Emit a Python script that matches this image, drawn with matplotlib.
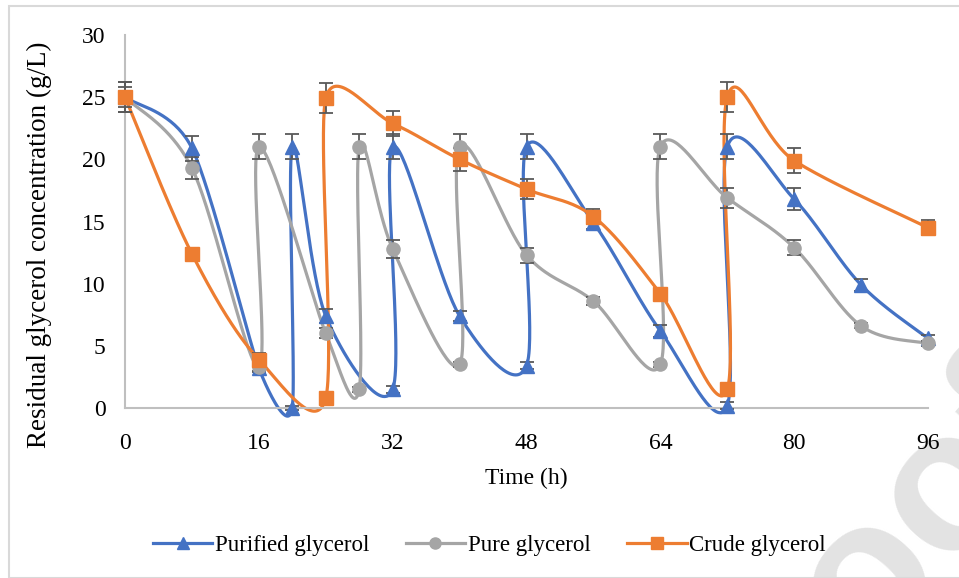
import matplotlib
matplotlib.use('Agg')
import matplotlib.pyplot as plt
import numpy as np
from matplotlib.lines import Line2D
from matplotlib.patches import Rectangle

plt.rcParams['font.family'] = ['Liberation Serif', 'DejaVu Serif']

# data
t_purified = [0, 8, 16, 20, 20, 24, 32, 32, 40, 48, 48, 56, 64, 72, 72, 80, 88, 96]
c_purified = [25, 20.9, 3.2, 0, 21, 7.4, 1.5, 21, 7.4, 3.4, 21, 14.9, 6.2, 0.2, 21, 16.8, 9.9, 5.6]
e_purified = [1.2, 1.0, 0.3, 0.2, 1.0, 0.6, 0.3, 1.0, 0.4, 0.3, 1.0, 0.5, 0.5, 0.3, 1.0, 0.9, 0.5, 0.3]

t_pure = [0, 8, 16, 16, 24, 28, 28, 32, 40, 40, 48, 56, 64, 64, 72, 80, 88, 96]
c_pure = [25, 19.3, 3.3, 21, 6.0, 1.5, 21, 12.8, 3.5, 21, 12.3, 8.6, 3.5, 21, 16.9, 12.9, 6.6, 5.2]
e_pure = [1.2, 0.9, 0.3, 1.0, 0.4, 0.2, 1.0, 0.7, 0.2, 1.0, 0.6, 0.3, 0.2, 1.0, 0.8, 0.6, 0.2, 0.2]

t_crude = [0, 8, 16, 24, 24, 32, 40, 48, 56, 64, 72, 72, 80, 96]
c_crude = [25, 12.4, 3.9, 0.8, 24.9, 22.9, 20.0, 17.6, 15.4, 9.2, 1.5, 25, 19.9, 14.5]
e_crude = [0.8, 0.5, 0.5, 0.2, 1.2, 1.0, 0.9, 0.8, 0.6, 0.4, 0.2, 1.2, 1.0, 0.6]

names = ['Purified glycerol', 'Pure glycerol', 'Crude glycerol']
colors = ['#4472C4', '#A5A5A5', '#ED7D31']
markers = ['^', 'o', 's']

# pixels per data unit (for the smoothing distances)
sx_px = (928 - 125) / 96.
sy_px = (408 - 35) / 30.


def smooth(x, y, n=40):
    # excel-like smoothed line: arms = (P[i+1]-P[i-1])*f, f=1/6 clamped by half the neighbour segments
    P = np.column_stack([x, y]).astype(float)
    S = np.array([sx_px, sy_px])
    m = len(P)
    dist = lambda a, b: np.linalg.norm((b - a) * S)
    cin = P.copy()
    cout = P.copy()
    for i in range(m):
        p0 = P[i - 1] if i > 0 else P[i]
        p2 = P[i + 1] if i < m - 1 else P[i]
        d01, d12, d02 = dist(p0, P[i]), dist(P[i], p2), dist(p0, p2)
        f = 1 / 6.
        if d02 > 0:
            if i > 0:
                f = min(f, d01 / (2 * d02))
            if i < m - 1:
                f = min(f, d12 / (2 * d02))
        T = (p2 - p0) * f
        cin[i] = P[i] - T
        cout[i] = P[i] + T
    t = np.linspace(0, 1, n)[:, None]
    out = []
    for i in range(m - 1):
        p1, p2, c1, c2 = P[i], P[i + 1], cout[i], cin[i + 1]
        out.append((1 - t)**3 * p1 + 3 * (1 - t)**2 * t * c1 + 3 * (1 - t) * t**2 * c2 + t**3 * p2)
    B = np.vstack(out)
    return B[:, 0], B[:, 1]


fig = plt.figure(figsize=(9.59, 5.78), dpi=100)
ax = fig.add_axes([125/959, 1-408/578, (928-125)/959, (408-35)/578])
ax.set_facecolor('none')

# watermark in the corner
fig.text(866/959, -82/578, 'oof', fontsize=144, rotation=48, rotation_mode='anchor',
         ha='left', va='baseline', color='#E3E3E3', family='Liberation Sans', weight='bold', zorder=-5)
fig.patches.append(Rectangle((8.5/959, 0), 1.2, 1-5.5/578, transform=fig.transFigure,
                             fill=False, edgecolor='#D9D9D9', lw=1.5, zorder=-4))

series = [(t_purified, c_purified, e_purified), (t_pure, c_pure, e_pure), (t_crude, c_crude, e_crude)]
for k, (tt_, cc, ee) in enumerate(series):
    lx, ly = smooth(tt_, cc)
    ax.plot(lx, ly, color=colors[k], lw=2.3, zorder=2 + k * 0.1, clip_on=False, solid_capstyle='round')
for k, (tt_, cc, ee) in enumerate(series):
    ax.errorbar(tt_, cc, yerr=ee, fmt='none', ecolor='#595959', elinewidth=1.3, capsize=5,
                capthick=1.3, zorder=3, clip_on=False)
for k, (tt_, cc, ee) in enumerate(series):
    ms = 10 if markers[k] == '^' else 9.5
    ax.plot(tt_, cc, linestyle='none', marker=markers[k], ms=ms, color=colors[k],
            zorder=4 + k * 0.1, clip_on=False)

ax.set_xlim(0, 96)
ax.set_ylim(0, 30)
ax.set_xticks(np.arange(0, 97, 16))
ax.set_yticks(np.arange(0, 31, 5))
ax.tick_params(length=0, labelsize=17, colors='black')
ax.tick_params(axis='x', pad=18)
ax.tick_params(axis='y', pad=14)
for s in ['top', 'right']:
    ax.spines[s].set_visible(False)
for s in ['left', 'bottom']:
    ax.spines[s].set_color('#BFBFBF')
    ax.spines[s].set_linewidth(1.5)
ax.set_xlabel('Time (h)', fontsize=17, labelpad=10)
ax.set_ylabel('Residual glycerol concentration (g/L)', fontsize=19.5)
ax.yaxis.set_label_coords(-(125 - 62) / (928 - 125) - 0.012, (408 - 245) / 373)

handles = [Line2D([], [], color=colors[k], lw=2.3, marker=markers[k], ms=8) for k in range(3)]
fig.legend(handles, names, loc='center', bbox_to_anchor=(0.51, 1-545/578), ncol=3, frameon=False,
           fontsize=16.5, handlelength=2.6, handletextpad=0.1, columnspacing=1.6)

fig.savefig('out.png', dpi=100)
